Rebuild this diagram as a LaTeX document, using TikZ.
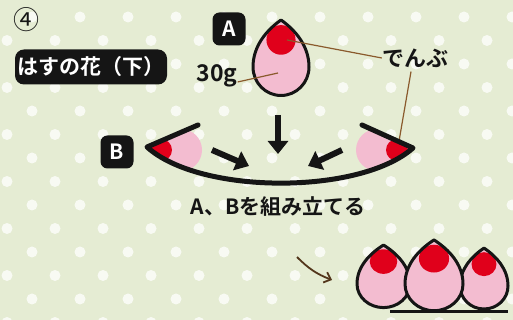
\documentclass[tikz,border=0pt]{standalone}
\usepackage{fontspec}
\usepackage{xcolor}
\usepackage{tikz}
\usetikzlibrary{arrows.meta,positioning}

\newfontfamily\jpfont{Noto Sans CJK JP}[BoldFont={Noto Sans CJK JP Bold}]

\definecolor{paper}{HTML}{E5ECD3}
\definecolor{petalpink}{HTML}{F3BCD0}
\definecolor{petalred}{HTML}{E0001B}
\definecolor{leader}{HTML}{8A5A2C}
\definecolor{ink}{HTML}{151515}

% teardrop in unit size: round end radius 1, tip at (0,1.65)
\newcommand\petalpath{(0,1.65) .. controls (0.5,1.3) and (1,0.75) .. (1,0)
    arc[start angle=0,end angle=-180,radius=1]
    .. controls (-1,0.75) and (-0.5,1.3) .. (0,1.65) -- cycle}
\newcommand\petalfill{%
    \fill[petalpink] \petalpath;
    \begin{scope}
        \clip \petalpath;
        \fill[petalred] (0,0.95) circle[radius=0.52];
    \end{scope}}

\tikzset{
    pics/petal body/.style={code={\petalfill}},
    pics/petal/.style={code={
        \petalfill
        \draw[ink, line width=3pt, line join=round] \petalpath;
    }},
}

\begin{document}
\begin{tikzpicture}[x=1pt, y=1pt,
        tag/.style={fill=ink, text=white, rounded corners=7pt, inner sep=0pt,
                    font=\jpfont\bfseries\fontsize{21}{21}\selectfont},
        letter/.style={tag, minimum width=33pt, minimum height=33pt},
        label/.style={text=ink, inner sep=0pt, font=\jpfont\bfseries\fontsize{22}{22}\selectfont},
        leadline/.style={leader, line width=1.2pt},
        push/.style={ink, line width=6pt, -{Triangle[length=13pt,width=20pt]}},
        dot/.style={white, opacity=0.75},
    ]
        \useasboundingbox (0,0) rectangle (513,320);
        \fill[paper] (0,0) rectangle (513,320);
        \begin{scope}
            \clip (0,0) rectangle (513,320);
            \foreach \r in {0,...,13}{
                \pgfmathsetmacro\dy{303-23.5*\r}
                \pgfmathsetmacro\dx{mod(\r,2)==0 ? 32 : 7}
                \foreach \c in {0,...,10}
                    \fill[dot] (\dx+48*\c,\dy) circle[radius=5.5];
            }
        \end{scope}

        % step number and title
        \node[text=ink, inner sep=0pt, font=\jpfont\fontsize{26}{26}\selectfont] (num) at (26,300) {④};
        \node[tag, minimum width=152pt, minimum height=35pt, rounded corners=9pt] (title) at (91,253) {はすの花（下）};

        % part A
        \node[letter] (tagA) at (229,291) {A};
        \pic[xscale=28, yscale=28.5] at (281,253) {petal};
        \coordinate (redA) at (287,280);
        \coordinate (bodyA) at (278,247);
        \node[label, font=\jpfont\bfseries\fontsize{23}{23}\selectfont] (grams) at (217,244) {30g};
        \node[label] (denbu) at (415,262) {でんぶ};
        \coordinate (redB) at (398,173);

        \draw[leadline] (grams.east) ++(0,-6) -- (bodyA);
        \draw[leadline] (redA) -- (denbu.west);
        \draw[leadline] (denbu.south) ++(-4,-4) -- (redB);

        % part B: the bowl with its two side pieces
        \node[letter] (tagB) at (117,168) {B};
        \begin{scope}
            \clip (198,195) -- (147,173) .. controls (200,125) and (360,125) .. (413,172)
                -- (362,195) -- cycle;
            \pic[rotate=90, scale=21] at (181,170) {petal body};
            \pic[rotate=-90, scale=21] at (377,170) {petal body};
        \end{scope}
        \draw[ink, line width=5pt, line join=round, line cap=round]
            (198,195) -- (147,173) .. controls (200,125) and (360,125) .. (413,172) -- (362,195);

        \coordinate (topS) at (278,205);
        \coordinate (topE) at (278,166);
        \coordinate (leftS) at (212,170);
        \coordinate (leftE) at (249,154);
        \coordinate (rightS) at (342,170);
        \coordinate (rightE) at (308,154);
        \draw[push] (topS) -- (topE);
        \draw[push] (leftS) -- (leftE);
        \draw[push] (rightS) -- (rightE);

        \node[label, font=\jpfont\bfseries\fontsize{21}{21}\selectfont] (caption) at (278,113) {A、Bを組み立てる};

        % finished flower base
        \coordinate (hintS) at (297,63);
        \coordinate (hintE) at (332,40);
        \draw[leader!60!black, line width=1.8pt, -{Straight Barb[length=6pt,width=11pt]}]
            (hintS) to[bend right=12] (hintE);

        \coordinate (baseL) at (390,8);
        \coordinate (baseR) at (508,8);
        \draw[ink, line width=3pt] (baseL) -- (baseR);
        \pic[xscale=26.5, yscale=23.6] at (383.5,36) {petal};
        \pic[xscale=24, yscale=23] at (484,34) {petal};
        \pic[xscale=29, yscale=26.7] at (434,36) {petal};
    \end{tikzpicture}
\end{document}
